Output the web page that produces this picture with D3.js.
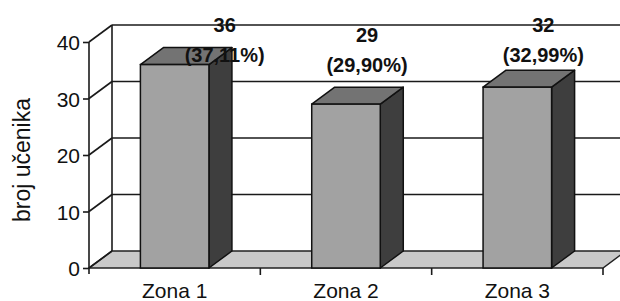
<!DOCTYPE html>
<html>
<head>
<meta charset="utf-8">
<script src="https://cdn.jsdelivr.net/npm/d3@7"></script>
<style>
  body { margin: 0; background: #fff; }
  text { font-family: "Liberation Sans", Arial, sans-serif; fill: #111; }
</style>
</head>
<body>
<div id="chart"></div>
<script>
// chart data
const categories = ["Zona 1", "Zona 2", "Zona 3"];
const counts = [36, 29, 32];
const percents = ["37,11%", "29,90%", "32,99%"];
const yTicks = [0, 10, 20, 30, 40];

// label nudges (the original has hand-dragged labels)
const labelDx = [50, 21, 26];
const labelDy = [-33, -62, -55];

const width = 620;
const height = 301;
const depth = {x: 23, y: -17};
const plot = {left: 89, right: 603, top: 42, bottom: 268};

let svg = d3.select("#chart")
    .append("svg")
    .attr("width", width)
    .attr("height", height);

let xScale = d3.scaleBand()
    .domain(categories)
    .range([plot.left, plot.right])
    .paddingInner(0)
    .paddingOuter(0);

let yScale = d3.scaleLinear()
    .domain([0, 40])
    .range([plot.bottom, plot.top]);

const barWidth = xScale.bandwidth() * 0.4;

// floor
svg.append("polygon")
    .attr("points", [
        [plot.left, plot.bottom],
        [plot.right, plot.bottom],
        [plot.right + depth.x, plot.bottom + depth.y],
        [plot.left + depth.x, plot.bottom + depth.y]
    ].join(" "))
    .attr("fill", "#c9c9c9")
    .attr("stroke", "#222")
    .attr("stroke-width", 1.5);

// back wall gridlines and left wall diagonals
let grid = svg.append("g").attr("class", "grid")
    .attr("stroke", "#1a1a1a")
    .attr("stroke-width", 1.6);

grid.selectAll(".hline")
    .data(yTicks.filter(d => d > 0))
    .enter()
    .append("line")
    .attr("x1", plot.left + depth.x)
    .attr("x2", width + 10)
    .attr("y1", d => yScale(d) + depth.y)
    .attr("y2", d => yScale(d) + depth.y);

grid.selectAll(".diag")
    .data(yTicks)
    .enter()
    .append("line")
    .attr("x1", plot.left)
    .attr("y1", d => yScale(d))
    .attr("x2", plot.left + depth.x)
    .attr("y2", d => yScale(d) + depth.y);

// back wall left edge
grid.append("line")
    .attr("x1", plot.left + depth.x)
    .attr("x2", plot.left + depth.x)
    .attr("y1", yScale(0) + depth.y)
    .attr("y2", yScale(40) + depth.y);

// y axis
let yAxis = d3.axisLeft(yScale)
    .tickValues(yTicks)
    .tickSize(6)
    .tickPadding(3)
    .tickFormat(d3.format("d"));

let yG = svg.append("g")
    .attr("transform", "translate(" + plot.left + ",0)")
    .call(yAxis);
yG.select(".domain").attr("stroke", "#1a1a1a").attr("stroke-width", 1.6)
    .attr("d", "M0," + (yScale(0) + 6) + "V" + yScale(40));
yG.selectAll(".tick line").attr("stroke", "#1a1a1a").attr("stroke-width", 1.6);
yG.selectAll(".tick text")
    .style("font-size", "21px")
    .style("font-family", "'Liberation Sans', Arial, sans-serif")
    .attr("fill", "#111")
    .attr("dy", "0.36em");

// x axis
let xAxis = d3.axisBottom(xScale)
    .tickSize(0)
    .tickPadding(15);

let xG = svg.append("g")
    .attr("transform", "translate(0," + plot.bottom + ")")
    .call(xAxis);
xG.select(".domain").remove();
xG.selectAll(".tick text")
    .style("font-size", "21px")
    .style("font-family", "'Liberation Sans', Arial, sans-serif")
    .attr("fill", "#111");

// category separator ticks
svg.append("g")
    .selectAll("line")
    .data(categories.slice(1).concat(["end"]))
    .enter()
    .append("line")
    .attr("x1", (d, i) => plot.left + xScale.bandwidth() * (i + 1))
    .attr("x2", (d, i) => plot.left + xScale.bandwidth() * (i + 1))
    .attr("y1", plot.bottom)
    .attr("y2", plot.bottom + 7)
    .attr("stroke", "#1a1a1a")
    .attr("stroke-width", 1.6);

// 3D bars
let bars = svg.append("g").attr("class", "bars")
    .selectAll("g")
    .data(counts)
    .enter()
    .append("g");

function barX(i) {
    return xScale(categories[i]) + (xScale.bandwidth() - barWidth) / 2;
}

// side face
bars.append("polygon")
    .attr("points", function (d, i) {
        let x1 = barX(i) + barWidth;
        return [
            [x1, yScale(d)],
            [x1 + depth.x, yScale(d) + depth.y],
            [x1 + depth.x, yScale(0) + depth.y],
            [x1, yScale(0)]
        ].join(" ");
    })
    .attr("fill", "#3e3e3e")
    .attr("stroke", "#111")
    .attr("stroke-width", 1.5)
    .attr("stroke-linejoin", "round");

// top face
bars.append("polygon")
    .attr("points", function (d, i) {
        let x0 = barX(i);
        return [
            [x0, yScale(d)],
            [x0 + depth.x, yScale(d) + depth.y],
            [x0 + barWidth + depth.x, yScale(d) + depth.y],
            [x0 + barWidth, yScale(d)]
        ].join(" ");
    })
    .attr("fill", "#737373")
    .attr("stroke", "#111")
    .attr("stroke-width", 1.5)
    .attr("stroke-linejoin", "round");

// front face
bars.append("rect")
    .attr("x", (d, i) => barX(i))
    .attr("y", d => yScale(d))
    .attr("width", barWidth)
    .attr("height", d => yScale(0) - yScale(d))
    .attr("fill", "#a2a2a2")
    .attr("stroke", "#111")
    .attr("stroke-width", 1.5);

// data labels, drawn over the bars as in the original
let labels = svg.append("g").attr("class", "labels");
categories.forEach(function (c, i) {
    let cx = xScale(c) + xScale.bandwidth() / 2 + labelDx[i];
    let y = yScale(counts[i]) + labelDy[i];
    let t = labels.append("text")
        .attr("x", cx)
        .attr("y", y)
        .style("text-anchor", "middle")
        .style("font-size", "20px")
        .style("font-weight", "bold");
    t.append("tspan").attr("x", cx).text(counts[i]);
    t.append("tspan").attr("x", cx).attr("dy", 30).text("(" + percents[i] + ")");
});

// y axis title
svg.append("text")
    .attr("transform", "translate(30," + 160 + ") rotate(-90)")
    .style("text-anchor", "middle")
    .style("font-size", "23px")
    .text("broj učenika");
</script>
</body>
</html>
